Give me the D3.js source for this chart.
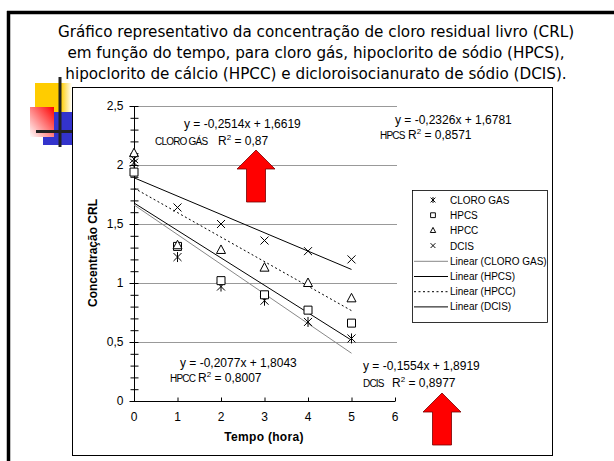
<!DOCTYPE html>
<html>
<head>
<meta charset="utf-8">
<script src="https://cdn.jsdelivr.net/npm/d3@7"></script>
<style>
  body { margin: 0; background: #fff; }
  svg { display: block; }
</style>
</head>
<body>
<script>
// data
const titleLines = [
  "Gráfico representativo da concentração de cloro residual livro (CRL)",
  "em função do tempo, para cloro gás, hipoclorito de sódio (HPCS),",
  "hipoclorito de cálcio (HPCC) e dicloroisocianurato de sódio (DCIS)."
];
const tempo = [0, 1, 2, 3, 4, 5];
const cloroGas = [2.02, 1.22, 0.97, 0.85, 0.67, 0.53];
const hpcs = [1.94, 1.31, 1.02, 0.90, 0.77, 0.66];
const hpcc = [2.10, 1.32, 1.28, 1.13, 1.00, 0.87];
const dcis = [2.05, 1.64, 1.50, 1.36, 1.27, 1.20];
const seriesNames = ["CLORO GAS", "HPCS", "HPCC", "DCIS"];
const eqNames = ["CLORO GÁS", "HPCS", "HPCC", "DCIS"];
const slopes = [-0.2514, -0.2326, -0.2077, -0.1554];
const intercepts = [1.6619, 1.6781, 1.8043, 1.8919];
const r2 = ["0,87", "0,8571", "0,8007", "0,8977"];
const yTicks = [0, 0.5, 1, 1.5, 2, 2.5];
const xTicks = [0, 1, 2, 3, 4, 5, 6];

var w = 614;
var h = 461;

const svg = d3.select("body").append("svg")
    .attr("width", w)
    .attr("height", h);

const defs = svg.append("defs");
var gy = defs.append("linearGradient").attr("id", "gYel")
    .attr("x1", 0).attr("y1", 0).attr("x2", 1).attr("y2", 0);
gy.append("stop").attr("offset", "0.7").attr("stop-color", "#ffcc00");
gy.append("stop").attr("offset", "1").attr("stop-color", "#ffffff");
var gr = defs.append("linearGradient").attr("id", "gRed")
    .attr("x1", 1).attr("y1", 0).attr("x2", 0).attr("y2", 1);
gr.append("stop").attr("offset", "0").attr("stop-color", "#ff0000");
gr.append("stop").attr("offset", "1").attr("stop-color", "#ffffff");

// slide frame
svg.append("line").attr("x1", 7).attr("x2", 614).attr("y1", 12.5).attr("y2", 12.5)
    .style("stroke", "#000").style("stroke-width", 3.5);
svg.append("line").attr("x1", 8.5).attr("x2", 8.5).attr("y1", 11).attr("y2", 461)
    .style("stroke", "#000").style("stroke-width", 3.5);

// title
svg.append("g").selectAll("text")
    .data(titleLines).enter()
    .append("text")
    .attr("x", 316)
    .attr("y", (d, i) => 37 + i * 21)
    .attr("text-anchor", "middle")
    .style("font-family", "'DejaVu Sans', sans-serif")
    .style("font-size", "15.2px")
    .style("fill", "#000")
    .text(d => d);

// decoration squares
svg.append("rect").attr("x", 35).attr("y", 83).attr("width", 37).attr("height", 30).style("fill", "url(#gYel)");
svg.append("rect").attr("x", 43).attr("y", 112).attr("width", 29).attr("height", 33).style("fill", "#3333cc");
svg.append("rect").attr("x", 30).attr("y", 107).attr("width", 24).attr("height", 30).style("fill", "url(#gRed)");
svg.append("line").attr("x1", 60).attr("x2", 60).attr("y1", 77).attr("y2", 147)
    .style("stroke", "#222").style("stroke-width", 3);
svg.append("line").attr("x1", 36).attr("x2", 72).attr("y1", 131.5).attr("y2", 131.5)
    .style("stroke", "#222").style("stroke-width", 3);

// chart box
svg.append("rect").attr("x", 72.5).attr("y", 87.5).attr("width", 480).attr("height", 368)
    .style("fill", "#fff").style("stroke", "#000").style("stroke-width", 1);

const x = d3.scaleLinear().domain([0, 6]).range([134, 395]);
const y = d3.scaleLinear().domain([0, 2.5]).range([401, 106]);

const g = svg.append("g");
const font = "'Liberation Sans', Arial, sans-serif";

// gridlines
g.selectAll(".grid")
    .data(yTicks.filter(d => d > 0)).enter()
    .append("line")
    .attr("x1", x(0)).attr("x2", x(6) + 2)
    .attr("y1", d => Math.round(y(d)) + 0.5).attr("y2", d => Math.round(y(d)) + 0.5)
    .style("stroke", "#999").style("stroke-width", 1);

// y axis
const yAxis = g.append("g").attr("transform", "translate(" + (x(0) + 0.5) + ",0)")
    .call(d3.axisLeft(y).tickValues(yTicks).tickSize(5).tickPadding(6)
        .tickFormat(d => d3.format(".1~f")(d).replace(".", ",")));
yAxis.select(".domain").remove();
yAxis.append("line").attr("y1", y(2.5)).attr("y2", y(0)).style("stroke", "#000");
g.append("g").attr("transform", "translate(" + (x(0) + 0.5) + ",0)")
    .call(d3.axisRight(y).ticks(25).tickSize(4).tickFormat(""))
    .select(".domain").remove();
g.append("g").attr("transform", "translate(" + (x(0) + 0.5) + ",0)")
    .call(d3.axisLeft(y).ticks(25).tickSize(4).tickFormat(""))
    .select(".domain").remove();

// x axis
const xAxis = g.append("g").attr("transform", "translate(0," + (y(0) + 0.5) + ")")
    .call(d3.axisTop(x).tickValues(xTicks).tickSize(4).tickFormat(""));
xAxis.select(".domain").remove();
xAxis.append("line").attr("x1", x(0)).attr("x2", x(6)).style("stroke", "#000");
g.append("g").selectAll("text")
    .data(xTicks).enter()
    .append("text")
    .attr("x", d => x(d))
    .attr("y", y(0) + 20)
    .attr("text-anchor", "middle")
    .style("font-family", font).style("font-size", "12px")
    .text(d => d);

g.selectAll(".tick text").style("font-family", font).style("font-size", "12px").style("fill", "#000");
g.selectAll(".tick line").style("stroke", "#000");

// axis titles
g.append("text")
    .attr("x", 264).attr("y", 441)
    .attr("text-anchor", "middle")
    .style("font-family", font).style("font-size", "12px").style("font-weight", "bold")
    .style("letter-spacing", "0.3px")
    .text("Tempo (hora)");
g.append("text")
    .attr("transform", "translate(97,253) rotate(-90)")
    .attr("text-anchor", "middle")
    .style("font-family", font).style("font-size", "12px").style("font-weight", "bold")
    .text("Concentração CRL");

// trend lines
const lineStyles = [
    {stroke: "#888", dash: null},
    {stroke: "#000", dash: null},
    {stroke: "#000", dash: "2,2.5"},
    {stroke: "#000", dash: null}
];
const line = d3.line().x(d => x(d[0])).y(d => y(d[1]));
g.selectAll(".trend")
    .data(slopes).enter()
    .append("path")
    .attr("d", (s, i) => line([0, 5].map(t => [t, intercepts[i] + s * t])))
    .style("fill", "none")
    .style("stroke", (s, i) => lineStyles[i].stroke)
    .style("stroke-dasharray", (s, i) => lineStyles[i].dash)
    .style("stroke-width", 1);

// markers
const symbols = [
    "M-4,-4L4,4M-4,4L4,-4M0,-5L0,5",
    "M-4,-4H4V4H-4Z",
    "M0,-5L4.5,3.5L-4.5,3.5Z",
    "M-4,-4L4,4M-4,4L4,-4"
];
const allSeries = [cloroGas, hpcs, hpcc, dcis];
allSeries.forEach(function(vals, i) {
    g.append("g").selectAll("path")
        .data(vals).enter()
        .append("path")
        .attr("transform", (d, j) => "translate(" + x(tempo[j]) + "," + y(d) + ")")
        .attr("d", symbols[i])
        .style("fill", i == 1 || i == 2 ? "#fff" : "none")
        .style("stroke", "#000")
        .style("stroke-width", 1);
});

// equations
const eqPos = [
    {x: 184, y: 128, nx: 155, rx: 218, ry: 145},
    {x: 395, y: 124, nx: 380, rx: 408, ry: 139},
    {x: 180, y: 367, nx: 170, rx: 198, ry: 382},
    {x: 363, y: 370, nx: 363, rx: 392, ry: 387}
];
slopes.forEach(function(s, i) {
    var p = eqPos[i];
    var fmt = d3.format(".4f");
    g.append("text")
        .attr("x", p.x).attr("y", p.y)
        .style("font-family", font).style("font-size", "12px")
        .text("y = " + fmt(s).replace(".", ",").replace("−", "-") + "x + " + fmt(intercepts[i]).replace(".", ","));
    g.append("text")
        .attr("x", p.nx).attr("y", p.ry)
        .style("font-family", font).style("font-size", "10px").style("letter-spacing", "-0.8px")
        .text(eqNames[i]);
    var t = g.append("text")
        .attr("x", p.rx).attr("y", p.ry)
        .style("font-family", font).style("font-size", "12px");
    t.append("tspan").text("R");
    t.append("tspan").attr("dy", -5).style("font-size", "8px").text("2");
    t.append("tspan").attr("dy", 5).text(" = " + r2[i]);
});

// red arrows
function arrow(cx, top, headY, bottom, headHalf, shaftHalf) {
    return "M" + cx + "," + top +
        "L" + (cx + headHalf) + "," + headY +
        "L" + (cx + shaftHalf) + "," + headY +
        "L" + (cx + shaftHalf) + "," + bottom +
        "L" + (cx - shaftHalf) + "," + bottom +
        "L" + (cx - shaftHalf) + "," + headY +
        "L" + (cx - headHalf) + "," + headY + "Z";
}
svg.append("path").attr("d", arrow(256, 150, 169, 202, 19, 9.5))
    .style("fill", "#ff0000").style("stroke", "#700").style("stroke-width", 0.8);
svg.append("path").attr("d", arrow(442, 393, 412, 445, 19, 9.5))
    .style("fill", "#ff0000").style("stroke", "#700").style("stroke-width", 0.8);

// legend
const lg = svg.append("g");
lg.append("rect").attr("x", 412.5).attr("y", 190.5).attr("width", 135).attr("height", 132)
    .style("fill", "#fff").style("stroke", "#000").style("stroke-width", 0.8);
const legendLabels = seriesNames.concat(seriesNames.map(d => "Linear (" + d + ")"));
lg.selectAll("text")
    .data(legendLabels).enter()
    .append("text")
    .attr("x", 450)
    .attr("y", (d, i) => 204 + i * 15.2)
    .style("font-family", font).style("font-size", "10px")
    .text(d => d);
seriesNames.forEach(function(d, i) {
    lg.append("path")
        .attr("transform", "translate(433," + (200 + i * 15.2) + ") scale(0.6)")
        .attr("d", symbols[i])
        .style("fill", "none").style("stroke", "#000").style("stroke-width", 1.6);
    lg.append("line")
        .attr("x1", 414).attr("x2", 448)
        .attr("y1", 200.5 + (i + 4) * 15.2).attr("y2", 200.5 + (i + 4) * 15.2)
        .style("stroke", lineStyles[i].stroke)
        .style("stroke-dasharray", lineStyles[i].dash)
        .style("stroke-width", 1);
});
</script>
</body>
</html>
